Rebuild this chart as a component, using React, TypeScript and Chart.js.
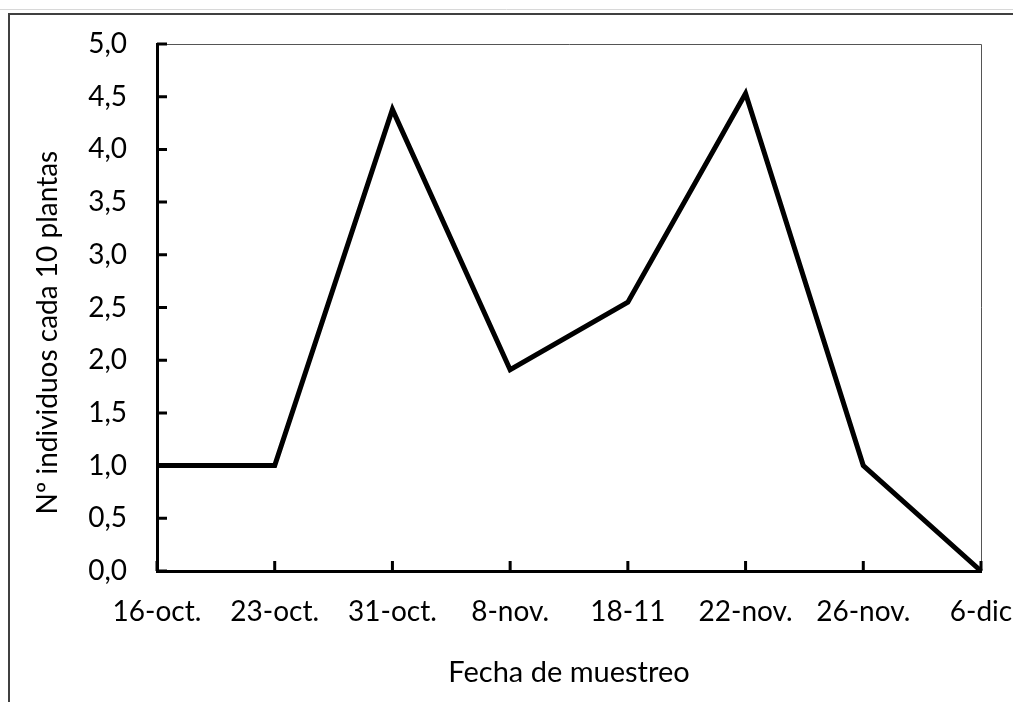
import React, { useEffect, useRef } from "react";
import { Chart, registerables } from "chart.js";

Chart.register(...registerables);

const categories = ["16-oct.", "23-oct.", "31-oct.", "8-nov.", "18-11", "22-nov.", "26-nov.", "6-dic"];
const values = [1.0, 1.0, 4.38, 1.91, 2.55, 4.53, 1.0, 0.0];
const yMin = 0;
const yMax = 5;
const yStep = 0.5;
const xTitle = "Fecha de muestreo";
const yTitle = "Nº individuos cada 10 plantas       ";

const FONT = "Lato, 'Open Sans', sans-serif";

const framePlugin = {
  id: "framePlugin",
  beforeDraw(chart: any) {
    const ctx = chart.ctx;
    ctx.save();
    ctx.fillStyle = "#ffffff";
    ctx.fillRect(0, 0, chart.width, chart.height);
    ctx.strokeStyle = "#d8d8d8";
    ctx.lineWidth = 1;
    ctx.beginPath();
    ctx.moveTo(0, 9.5);
    ctx.lineTo(chart.width, 9.5);
    ctx.stroke();
    ctx.strokeStyle = "#404040";
    ctx.lineWidth = 2;
    ctx.beginPath();
    ctx.moveTo(9, chart.height);
    ctx.lineTo(9, 14);
    ctx.lineTo(chart.width, 14);
    ctx.stroke();
    ctx.restore();
  },
  afterDatasetsDraw(chart: any) {
    const ctx = chart.ctx;
    const a = chart.chartArea;
    const xs = chart.scales.x;
    const ys = chart.scales.y;
    ctx.save();
    ctx.strokeStyle = "#555555";
    ctx.lineWidth = 1;
    ctx.beginPath();
    ctx.moveTo(a.left, a.top + 0.5);
    ctx.lineTo(a.right + 0.5, a.top + 0.5);
    ctx.lineTo(a.right + 0.5, a.bottom);
    ctx.stroke();
    ctx.strokeStyle = "#000000";
    ctx.lineWidth = 3;
    ctx.beginPath();
    ys.ticks.forEach((_t: any, i: number) => {
      const y = ys.getPixelForTick(i);
      ctx.moveTo(a.left, y);
      ctx.lineTo(a.left + 10, y);
    });
    xs.ticks.forEach((_t: any, i: number) => {
      const x = xs.getPixelForTick(i);
      ctx.moveTo(x, a.bottom);
      ctx.lineTo(x, a.bottom - 10);
    });
    ctx.stroke();
    ctx.restore();
  },
};

export default function App() {
  const ref = useRef<HTMLCanvasElement | null>(null);
  useEffect(() => {
    if (!ref.current) return;
    const chart = new Chart(ref.current, {
      type: "line",
      data: {
        labels: categories,
        datasets: [
          {
            data: values,
            borderColor: "#000000",
            backgroundColor: "#000000",
            borderWidth: 5,
            pointRadius: 0,
            tension: 0,
            fill: false,
          },
        ],
      },
      options: {
        animation: false,
        responsive: false,
        maintainAspectRatio: false,
        layout: { padding: { left: 0, top: 44, right: 32, bottom: 0 } },
        plugins: { legend: { display: false }, tooltip: { enabled: false } },
        scales: {
          x: {
            type: "category",
            offset: false,
            grid: { drawOnChartArea: false, drawTicks: false },
            border: { display: true, color: "#000000", width: 3 },
            ticks: {
              color: "#000000",
              padding: 24,
              maxRotation: 0,
              autoSkip: false,
              font: { family: FONT, size: 28 },
            },
            title: {
              display: true,
              text: xTitle,
              color: "#000000",
              font: { family: FONT, size: 29 },
              padding: { top: 0, bottom: 12 },
            },
            afterFit(scale: any) {
              scale.height = 131;
              scale.paddingLeft = 0;
              scale.paddingRight = 0;
            },
          },
          y: {
            min: yMin,
            max: yMax,
            grid: { drawOnChartArea: false, drawTicks: false },
            border: { display: true, color: "#000000", width: 3 },
            ticks: {
              stepSize: yStep,
              color: "#000000",
              padding: 30,
              font: { family: FONT, size: 28 },
              callback: (v: any) => Number(v).toFixed(1).replace(".", ","),
            },
            title: {
              display: true,
              text: yTitle,
              color: "#000000",
              font: { family: FONT, size: 28 },
              padding: { top: 31, bottom: 0 },
            },
            afterFit(scale: any) {
              scale.width = 157;
              scale.paddingTop = 0;
              scale.paddingBottom = 0;
            },
          },
        },
      },
      plugins: [framePlugin],
    });
    return () => chart.destroy();
  }, []);
  return (
    <div style={{ position: "absolute", left: 0, top: 0, width: 1013, height: 702 }}>
      <canvas ref={ref} width={1013} height={702} style={{ width: 1013, height: 702, display: "block" }} />
    </div>
  );
}
